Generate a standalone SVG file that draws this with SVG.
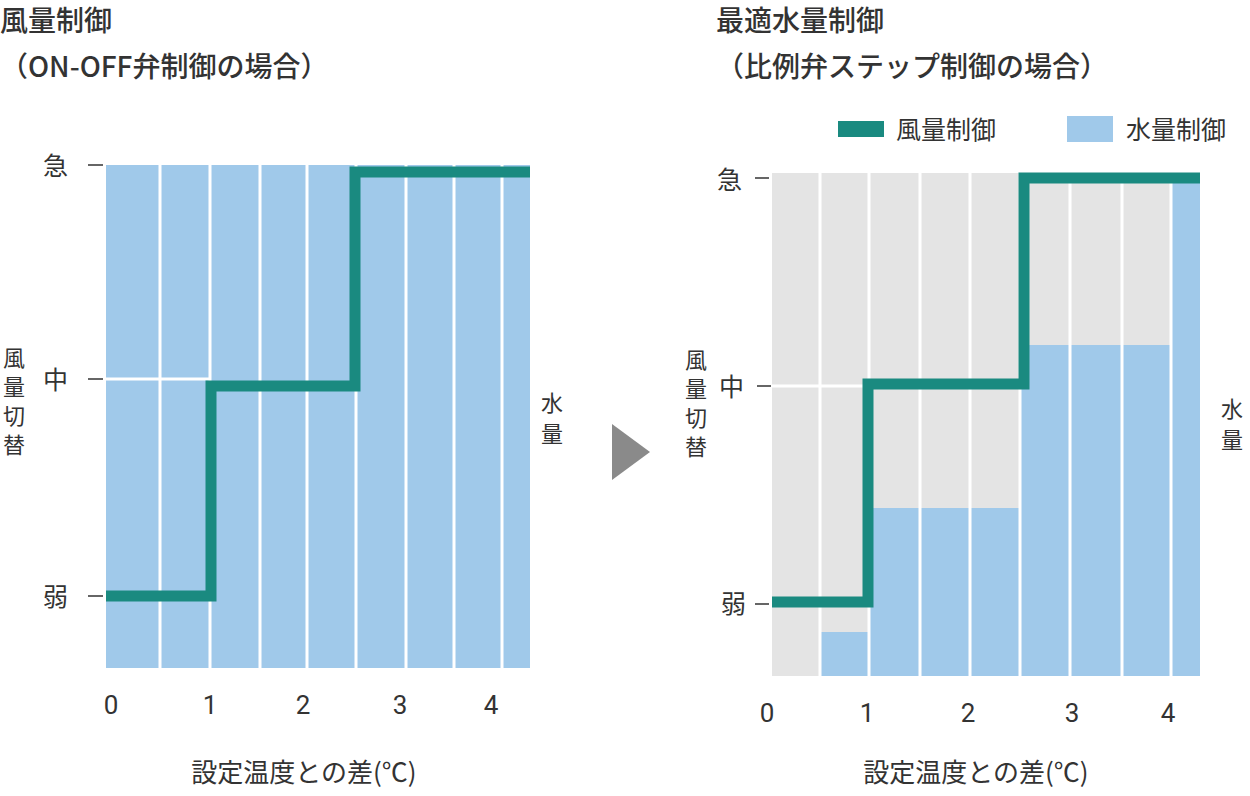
<svg xmlns="http://www.w3.org/2000/svg" width="1250" height="796" viewBox="0 0 1250 796">
<style>
text{font-family:"Noto Sans CJK JP","Noto Sans",sans-serif;fill:#333}
.t{font-size:28px;font-weight:500}
.l{font-size:25px}
.v{font-size:22px}
.n{font-family:Roboto,"Liberation Sans",sans-serif;font-size:26px}
.a{font-size:26px}
.g{stroke:#fff;stroke-width:3}
.tk{stroke:#333;stroke-width:1.5}
.w{fill:none;stroke:#1a8a80;stroke-width:11;stroke-linejoin:miter}
.b{fill:#a0c9ea}
</style>
<rect width="1250" height="796" fill="#fff"/>
<g id="left">
<text class="t" x="0" y="31">風量制御</text>
<text class="t" x="0" y="77">（ON-OFF弁制御の場合）</text>
<rect class="b" x="106" y="165" width="424" height="503"/>
<g class="g"><line x1="160" y1="165" x2="160" y2="668"/><line x1="210" y1="165" x2="210" y2="668"/><line x1="260" y1="165" x2="260" y2="668"/><line x1="307" y1="165" x2="307" y2="668"/><line x1="356" y1="165" x2="356" y2="668"/><line x1="406" y1="165" x2="406" y2="668"/><line x1="454" y1="165" x2="454" y2="668"/><line x1="502" y1="165" x2="502" y2="668"/><line x1="106" y1="379" x2="210" y2="379"/></g>
<g class="tk"><line x1="88" y1="165" x2="103" y2="165"/><line x1="88" y1="379" x2="103" y2="379"/><line x1="88" y1="596" x2="103" y2="596"/></g>
<text class="l" x="43" y="175">急</text><text class="l" x="43" y="389">中</text><text class="l" x="43" y="606">弱</text>
<text class="v" x="3" y="366">風</text><text class="v" x="3" y="395">量</text><text class="v" x="3" y="424">切</text><text class="v" x="3" y="453">替</text>
<text class="v" x="541" y="411">水</text><text class="v" x="541" y="442">量</text>
<text class="n" x="111" y="714" text-anchor="middle">0</text><text class="n" x="210" y="714" text-anchor="middle">1</text><text class="n" x="303" y="714" text-anchor="middle">2</text><text class="n" x="400" y="714" text-anchor="middle">3</text><text class="n" x="491" y="714" text-anchor="middle">4</text>
<text class="a" x="304" y="782" text-anchor="middle">設定温度との差(℃)</text>
<polyline class="w" points="106,596 211,596 211,386 355,386 355,172 530,172"/>
</g>
<polygon id="arrow" points="612,424 650,452 612,480" fill="#8a8a8a"/>
<g id="right">
<text class="t" x="716" y="31">最適水量制御</text>
<text class="t" x="716" y="77">（比例弁ステップ制御の場合）</text>
<rect x="838" y="121" width="46" height="16" fill="#1a8a80"/>
<text class="l" x="896" y="139">風量制御</text>
<rect class="b" x="1067" y="116" width="46" height="26"/>
<text class="l" x="1126" y="139">水量制御</text>
<rect x="772" y="173" width="428" height="503" fill="#e4e4e4"/>
<rect class="b" x="820" y="632" width="49" height="44"/>
<rect class="b" x="869" y="508" width="151" height="168"/>
<rect class="b" x="1020" y="345" width="151" height="331"/>
<rect class="b" x="1171" y="173" width="29" height="503"/>
<g class="g"><line x1="820" y1="173" x2="820" y2="676"/><line x1="869" y1="173" x2="869" y2="676"/><line x1="920" y1="173" x2="920" y2="676"/><line x1="970" y1="173" x2="970" y2="676"/><line x1="1020" y1="173" x2="1020" y2="676"/><line x1="1070" y1="173" x2="1070" y2="676"/><line x1="1122" y1="173" x2="1122" y2="676"/><line x1="1171" y1="173" x2="1171" y2="676"/><line x1="772" y1="386" x2="869" y2="386"/></g>
<g class="tk"><line x1="755" y1="178" x2="769" y2="178"/><line x1="757" y1="386" x2="771" y2="386"/><line x1="755" y1="604" x2="769" y2="604"/></g>
<text class="l" x="717" y="189">急</text><text class="l" x="719" y="396">中</text><text class="l" x="721" y="613">弱</text>
<text class="v" x="685" y="368">風</text><text class="v" x="685" y="397">量</text><text class="v" x="685" y="426">切</text><text class="v" x="685" y="455">替</text>
<text class="v" x="1221" y="417">水</text><text class="v" x="1221" y="448">量</text>
<text class="n" x="767" y="722" text-anchor="middle">0</text><text class="n" x="867" y="722" text-anchor="middle">1</text><text class="n" x="968" y="722" text-anchor="middle">2</text><text class="n" x="1072" y="722" text-anchor="middle">3</text><text class="n" x="1168" y="722" text-anchor="middle">4</text>
<text class="a" x="976" y="782" text-anchor="middle">設定温度との差(℃)</text>
<polyline class="w" points="772,602 868,602 868,384 1024,384 1024,178 1200,178"/>
</g>
</svg>
